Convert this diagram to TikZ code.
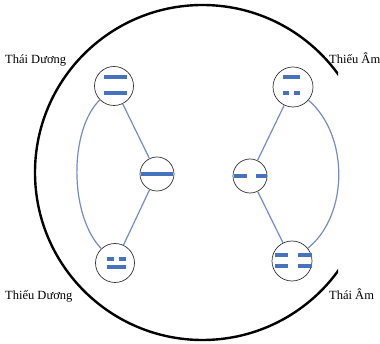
\documentclass[tikz,border=0pt]{standalone}
\usepackage{fontspec}
\setmainfont{Liberation Serif}
\usepackage{tikz}

\begin{document}
\begin{tikzpicture}[x=1pt,y=-1pt,
    sym/.style={circle,draw=black!80,line width=0.7pt,fill=white,inner sep=0pt},
    bar/.style={draw=yaoblue,line width=4pt},
    link/.style={draw=linkblue,line width=1.2pt},
    lbl/.style={anchor=base west,inner sep=0pt,font=\fontsize{12.5}{14}\selectfont}]
  \definecolor{yaoblue}{RGB}{70,115,190}
  \definecolor{linkblue}{RGB}{115,140,195}
  \useasboundingbox (0,0) rectangle (380,344);
  % outer circle, cut on the right
  \begin{scope}
    \clip (0,0) rectangle (338,344);
    \draw[line width=2.4pt] (202.5,172.5) circle (167.5);
  \end{scope}
  % the four images and the two forms
  \node[sym,minimum size=39pt] (thaiduong) at (114,86) {};
  \node[sym,minimum size=34pt] (duong) at (157,174) {};
  \node[sym,minimum size=39pt] (thieuduong) at (115,263) {};
  \node[sym,minimum size=40pt] (thieuam) at (293,87) {};
  \node[sym,minimum size=34pt] (am) at (250,176) {};
  \node[sym,minimum size=40pt] (thaiam) at (292,261) {};
  % connectors
  \draw[link] (thaiduong) -- (duong);
  \draw[link] (duong) -- (thieuduong);
  \draw[link] (thaiduong) .. controls (69,130) and (69,215) .. (thieuduong);
  \draw[link] (thieuam) -- (am);
  \draw[link] (am) -- (thaiam);
  \draw[link] (thieuam) .. controls (349,135) and (349,215) .. (thaiam);
  % bars
  \draw[bar] (104,77) -- (127,77);
  \draw[bar] (104,93) -- (127,93);
  \draw[bar] (141,174) -- (173,174);
  \draw[bar] (107,259) -- (114,259);
  \draw[bar] (119,259) -- (126,259);
  \draw[bar] (107,267) -- (126,267);
  \draw[bar] (283,77) -- (300,77);
  \draw[bar] (283,93) -- (289,93);
  \draw[bar] (294,93) -- (300,93);
  \draw[bar] (234,176) -- (247,176);
  \draw[bar] (256,176) -- (267,176);
  \draw[bar] (275,255) -- (288,255);
  \draw[bar] (298,255) -- (312,255);
  \draw[bar] (275,266) -- (288,266);
  \draw[bar] (298,266) -- (312,266);
  % labels
  \node[lbl] (lthaiduong) at (5,64) {Thái Dương};
  \node[lbl] (lthieuam) at (329,64) {Thiếu Âm};
  \node[lbl] (lthieuduong) at (5,300) {Thiếu Dương};
  \node[lbl] (lthaiam) at (329,300) {Thái Âm};
\end{tikzpicture}
\end{document}
